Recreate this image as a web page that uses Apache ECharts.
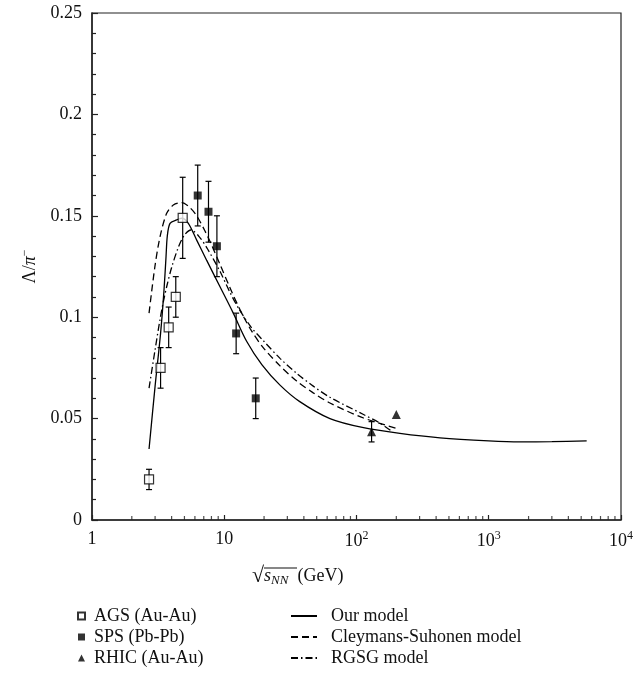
<!DOCTYPE html>
<html><head><meta charset="utf-8">
<script src="https://cdn.jsdelivr.net/npm/echarts@6/dist/echarts.min.js"></script>
<style>html,body{margin:0;padding:0;background:#fff}#c{width:637px;height:680px}</style>
</head><body><div id="c"></div>
<script>
// ---- data ----
const agsX = [2.7, 3.3, 3.8, 4.3, 4.85];
const agsY = [0.020, 0.075, 0.095, 0.110, 0.149];
const agsErr = [0.005, 0.010, 0.010, 0.010, 0.020];

const spsX = [6.3, 7.6, 8.8, 12.3, 17.3];
const spsY = [0.160, 0.152, 0.135, 0.092, 0.060];
const spsErr = [0.015, 0.015, 0.015, 0.010, 0.010];

const rhicX = [130, 200];
const rhicY = [0.0435, 0.052];
const rhicErr = [0.005, 0];

const ourModelX = [2.7, 3.0, 3.3, 3.5, 3.63, 3.71, 3.89, 4.37, 4.77, 5.35, 6.19, 7.37, 9.29, 11.7, 14.8, 19.3, 26.4, 37, 63, 113, 213, 428, 1000, 1722, 3000, 5500];
const ourModelY = [0.035, 0.066, 0.092, 0.113, 0.130, 0.140, 0.1463, 0.148, 0.1488, 0.1463, 0.138, 0.128, 0.115, 0.102, 0.088, 0.0765, 0.0665, 0.0585, 0.050, 0.0455, 0.0427, 0.0405, 0.039, 0.0385, 0.0386, 0.039];

const csModelX = [2.7, 2.99, 3.27, 3.67, 4.12, 4.77, 5.51, 6.19, 7.15, 8.04, 9.29, 11.05, 13.2, 16, 19.7, 26.4, 35.3, 47.1, 63, 113, 201];
const csModelY = [0.102, 0.125, 0.1397, 0.1512, 0.1553, 0.1565, 0.154, 0.150, 0.1425, 0.1355, 0.126, 0.1145, 0.1035, 0.0935, 0.085, 0.076, 0.0685, 0.0627, 0.0577, 0.0503, 0.0452];

const rgsgModelX = [2.7, 3.0, 3.27, 3.46, 3.7, 4.0, 4.5, 5.0, 5.6, 6.5, 7.5, 9.3, 11, 12.8, 16, 19.7, 26.4, 35.3, 47.1, 63, 113, 150, 185];
const rgsgModelY = [0.065, 0.084, 0.099, 0.1075, 0.116, 0.1245, 0.1345, 0.1405, 0.143, 0.1395, 0.1335, 0.1225, 0.1125, 0.1045, 0.095, 0.0885, 0.0797, 0.0723, 0.066, 0.0605, 0.052, 0.0478, 0.0437];

const xTickValues = [1, 10, 100, 1000, 10000];
const xTickLabels = ['1', '10', '10{sup|2}', '10{sup|3}', '10{sup|4}'];
const xMinorTicks = [2,3,4,5,6,7,8,9,20,30,40,50,60,70,80,90,200,300,400,500,600,700,800,900,2000,3000,4000,5000,6000,7000,8000,9000];
const yTickLabels = ['0', '0.05', '0.1', '0.15', '0.2', '0.25'];

const seriesNames = ['AGS (Au-Au)', 'SPS (Pb-Pb)', 'RHIC (Au-Au)', 'Our model', 'Cleymans-Suhonen model', 'RGSG model'];

// ---- build ----
const zip = (xs, ys) => xs.map((x, i) => [x, ys[i]]);
const zip3 = (xs, ys, es) => xs.map((x, i) => [x, ys[i], es[i]]);
const FONT = '"Liberation Serif", "DejaVu Serif", serif';

function errRender(params, api) {
  const x = api.value(0), y = api.value(1), e = api.value(2);
  if (!e) return null;
  const t = api.coord([x, y + e]), b = api.coord([x, y - e]);
  const w = 3;
  const st = {stroke: '#000', lineWidth: 1.2};
  return {type: 'group', children: [
    {type: 'line', shape: {x1: t[0], y1: t[1], x2: b[0], y2: b[1]}, style: st},
    {type: 'line', shape: {x1: t[0] - w, y1: t[1], x2: t[0] + w, y2: t[1]}, style: st},
    {type: 'line', shape: {x1: b[0] - w, y1: b[1], x2: b[0] + w, y2: b[1]}, style: st}
  ]};
}

const chart = echarts.init(document.getElementById('c'), null, {renderer: 'canvas'});
const lineCommon = {type: 'line', showSymbol: false, symbol: 'none', smooth: 0.3, z: 3, color: '#000'};

chart.setOption({
  animation: false,
  backgroundColor: '#fff',
  textStyle: {fontFamily: FONT},
  grid: {left: 92, right: 16, top: 13, bottom: 160, show: true, borderColor: '#222', borderWidth: 1.2, backgroundColor: 'transparent'},
  xAxis: {
    type: 'log', logBase: 10, min: 1, max: 10000,
    axisLine: {show: true, lineStyle: {color: '#222', width: 1.5}},
    axisTick: {show: true, inside: true, length: 5, lineStyle: {color: '#222', width: 1.2}},
    splitLine: {show: false},
    axisLabel: {
      margin: 10, color: '#111', fontFamily: FONT, fontSize: 18,
      formatter: v => { const i = xTickValues.findIndex(t => Math.abs(t - v) / t < 1e-6); return i >= 0 ? xTickLabels[i] : ''; },
      rich: {sup: {fontSize: 12, verticalAlign: 'top', padding: [0, 0, 10, 0], fontFamily: FONT, color: '#111'}}
    }
  },
  yAxis: {
    type: 'value', min: 0, max: 0.25, interval: 0.05,
    axisLine: {show: true, lineStyle: {color: '#222', width: 1.5}},
    axisTick: {show: true, inside: true, length: 6, lineStyle: {color: '#222', width: 1.2}},
    minorTick: {show: true, splitNumber: 5, length: 4, lineStyle: {color: '#222', width: 1.2}},
    splitLine: {show: false},
    axisLabel: {margin: 10, color: '#111', fontFamily: FONT, fontSize: 18,
      formatter: (v) => yTickLabels[Math.round(v / 0.05)]},
    name: '{a|Λ/}{b|π}{c|−}',
    nameLocation: 'middle', nameGap: 48, nameRotate: 90,
    nameTextStyle: {
      rich: {
        a: {fontFamily: FONT, fontSize: 18, color: '#111'},
        b: {fontFamily: FONT, fontSize: 18, fontStyle: 'italic', color: '#111'},
        c: {fontFamily: FONT, fontSize: 12, color: '#111', verticalAlign: 'top', padding: [0, 0, 12, 0]}
      }
    }
  },
  legend: [
    {data: seriesNames.slice(0, 3), orient: 'vertical', left: 77, top: 607, padding: 0, itemWidth: 7, itemHeight: 7, itemGap: 3,
      textStyle: {fontFamily: FONT, fontSize: 18, color: '#111', padding: [0, 0, 0, 4]}, selectedMode: false},
    {data: seriesNames.slice(3), orient: 'vertical', left: 290, top: 607, padding: 0, itemWidth: 26, itemHeight: 10, itemGap: 3,
      itemStyle: {color: 'transparent', borderWidth: 0, opacity: 0},
      lineStyle: {opacity: 1},
      textStyle: {fontFamily: FONT, fontSize: 18, color: '#111', padding: [0, 0, 0, 9]}, selectedMode: false}
  ],
  graphic: [
    {type: 'text', left: 252, top: 565, style: {
      text: '{r|√}{s|s}{sub|NN}{n|  (GeV)}',
      rich: {
        r: {fontFamily: FONT, fontSize: 22, fill: '#111'},
        s: {fontFamily: FONT, fontSize: 18, fontStyle: 'italic', fill: '#111'},
        sub: {fontFamily: FONT, fontSize: 13, fontStyle: 'italic', fill: '#111', verticalAlign: 'bottom', padding: [7, 0, 0, 0]},
        n: {fontFamily: FONT, fontSize: 18, fill: '#111'}
      }
    }},
    {type: 'line', shape: {x1: 264, y1: 568, x2: 297, y2: 568}, style: {stroke: '#111', lineWidth: 1.2}}
  ],
  series: [
    {name: seriesNames[0], type: 'scatter', data: zip(agsX, agsY), symbol: 'rect', symbolSize: 9, z: 5,
      itemStyle: {color: '#fff', borderColor: '#000', borderWidth: 1.2}},
    {name: seriesNames[1], type: 'scatter', data: zip(spsX, spsY), symbol: 'rect', symbolSize: 8, z: 5,
      itemStyle: {color: '#000'}},
    {name: seriesNames[2], type: 'scatter', data: zip(rhicX, rhicY), symbol: 'triangle', symbolSize: 9, z: 5,
      itemStyle: {color: '#000'}},
    Object.assign({name: seriesNames[3], data: zip(ourModelX, ourModelY), lineStyle: {color: '#000', width: 1.3, type: 'solid'}}, lineCommon),
    Object.assign({name: seriesNames[4], data: zip(csModelX, csModelY), lineStyle: {color: '#000', width: 1.3, type: [7, 4]}}, lineCommon),
    Object.assign({name: seriesNames[5], data: zip(rgsgModelX, rgsgModelY), lineStyle: {color: '#000', width: 1.3, type: [7, 3, 1.5, 3]}}, lineCommon),
    {type: 'custom', name: 'errAGS', data: zip3(agsX, agsY, agsErr), renderItem: errRender, encode: {x: 0, y: 1}, z: 4, silent: true},
    {type: 'custom', name: 'errSPS', data: zip3(spsX, spsY, spsErr), renderItem: errRender, encode: {x: 0, y: 1}, z: 4, silent: true},
    {type: 'custom', name: 'errRHIC', data: zip3(rhicX, rhicY, rhicErr), renderItem: errRender, encode: {x: 0, y: 1}, z: 4, silent: true},
    {type: 'scatter', name: 'minorTicks', data: xMinorTicks.map(v => [v, 0]), symbol: 'rect', symbolSize: [1.2, 4], symbolOffset: [0, -2], clip: false, silent: true, z: 2,
      itemStyle: {color: '#222'}}
  ]
});
</script></body></html>
